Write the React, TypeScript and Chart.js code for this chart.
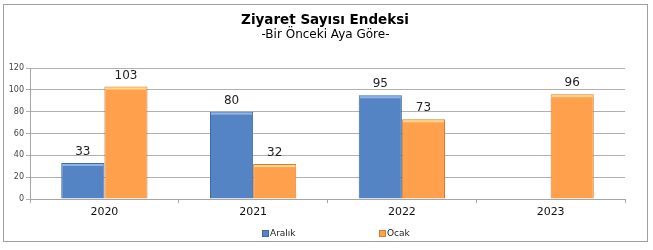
import React, { useEffect, useRef } from "react";
import { Chart, registerables } from "chart.js";

Chart.register(...registerables);

const categories = ["2020", "2021", "2022", "2023"];
const aralikValues: (number | null)[] = [33, 80, 95, null];
const ocakValues: (number | null)[] = [103, 32, 73, 96];
const seriesNames = ["Aralık", "Ocak"];
const yTicks = [0, 20, 40, 60, 80, 100, 120];

const title = "Ziyaret Sayısı Endeksi";
const subtitle = "-Bir Önceki Aya Göre-";

const blue = "#5484C4";
const blueBorder = "#3D6BA6";
const blueTop = "#8FB4E6";
const orange = "#FFA04C";
const orangeBorder = "#D47E35";
const orangeTop = "#FFD78A";

const valueLabels = {
  id: "valueLabels",
  afterDatasetsDraw(chart: any) {
    const ctx = chart.ctx;
    ctx.save();
    chart.data.datasets.forEach((ds: any, i: number) => {
      const meta = chart.getDatasetMeta(i);
      meta.data.forEach((bar: any, j: number) => {
        const v = ds.data[j];
        if (v === null || v === undefined) return;
        ctx.fillStyle = i === 0 ? blueTop : orangeTop;
        const w = bar.width;
        ctx.fillRect(bar.x - w / 2 + 1, bar.y + 1, w - 2, 2);
        ctx.fillStyle = "#222";
        ctx.font = "12px 'DejaVu Sans', Verdana, sans-serif";
        ctx.textAlign = "center";
        ctx.textBaseline = "bottom";
        ctx.fillText(String(v), bar.x, bar.y - 5);
      });
    });
    ctx.restore();
  },
};

export default function App() {
  const ref = useRef<HTMLCanvasElement>(null);
  useEffect(() => {
    document.body.style.margin = "0";
    const chart = new Chart(ref.current!, {
      type: "bar",
      data: {
        labels: categories,
        datasets: [
          {
            label: seriesNames[0],
            data: aralikValues,
            backgroundColor: blue,
            borderColor: blueBorder,
            borderWidth: 1,
            categoryPercentage: 0.58,
            barPercentage: 1,
          },
          {
            label: seriesNames[1],
            data: ocakValues,
            backgroundColor: orange,
            borderColor: orangeBorder,
            borderWidth: 1,
            categoryPercentage: 0.58,
            barPercentage: 1,
          },
        ],
      },
      options: {
        animation: false,
        responsive: false,
        layout: { padding: { top: 68, right: 28, bottom: 26, left: 0 } },
        plugins: { legend: { display: false }, tooltip: { enabled: false }, title: { display: false } },
        scales: {
          x: {
            grid: { offset: true, drawOnChartArea: false, tickLength: 4, color: "#a6a6a6" },
            border: { color: "#a6a6a6" },
            ticks: { color: "#111", font: { size: 11, family: "'DejaVu Sans', Verdana, sans-serif" }, padding: 3 },
            afterFit: (s: any) => { s.height = 25; },
          },
          y: {
            min: 0,
            max: 120,
            afterBuildTicks: (s: any) => { s.ticks = yTicks.map((v) => ({ value: v })); },
            grid: { color: "#b0b0b0", tickLength: 4 },
            border: { color: "#a6a6a6" },
            ticks: { color: "#444", font: { size: 8, family: "'DejaVu Sans', Verdana, sans-serif" }, padding: 2 },
            afterFit: (s: any) => { s.width = 30; },
          },
        },
      },
      plugins: [valueLabels],
    });
    return () => chart.destroy();
  }, []);

  const font = "'DejaVu Sans', Verdana, sans-serif";
  return (
    <div style={{ position: "relative", width: 653, height: 250, background: "#fff", fontFamily: font }}>
      <div style={{ position: "absolute", left: 3, top: 4, width: 643, height: 236, border: "1px solid #a0a0a0" }} />
      <canvas ref={ref} width={653} height={250} style={{ position: "absolute", left: 0, top: 0 }} />
      <div style={{ position: "absolute", top: 11, left: 0, width: 650, textAlign: "center", fontWeight: "bold", fontSize: 13.5, color: "#000" }}>{title}</div>
      <div style={{ position: "absolute", top: 27, left: 0, width: 651, textAlign: "center", fontSize: 12, color: "#000" }}>{subtitle}</div>
      <div style={{ position: "absolute", top: 228, left: 262, fontSize: 9, color: "#222", display: "flex", alignItems: "center" }}>
        <span style={{ display: "inline-block", width: 5, height: 5, background: blue, border: `1px solid ${blueBorder}`, marginRight: 1 }} />
        {seriesNames[0]}
      </div>
      <div style={{ position: "absolute", top: 228, left: 379, fontSize: 9, color: "#222", display: "flex", alignItems: "center" }}>
        <span style={{ display: "inline-block", width: 5, height: 5, background: orange, border: `1px solid ${orangeBorder}`, marginRight: 1 }} />
        {seriesNames[1]}
      </div>
    </div>
  );
}
